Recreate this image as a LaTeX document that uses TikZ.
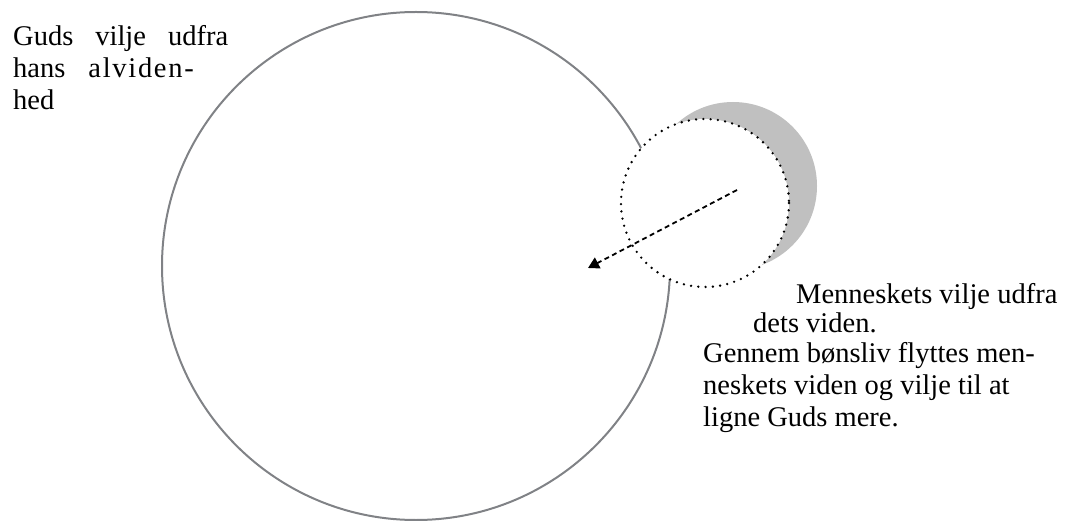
\documentclass[tikz,border=0pt]{standalone}
\usepackage{fontspec}
\setmainfont{Liberation Serif}
\usetikzlibrary{arrows.meta}
\definecolor{ringgray}{RGB}{128,130,134}
\definecolor{moongray}{RGB}{192,192,192}
\tikzset{
  label text/.style={inner sep=0pt, anchor=base west, font=\fontsize{28.5}{32.5}\selectfont},
}
\begin{document}
\begin{tikzpicture}[x=1pt,y=-1pt]
    \useasboundingbox (0,0) rectangle (1068,521);
    % grey crescent behind the small circle
    \fill[moongray] (733,186) circle (84);
    % Guds vilje
    \draw[ringgray, line width=2pt] (416,266) circle (254);
    % menneskets vilje
    \draw[line width=2.6pt, line cap=round, dash pattern=on 0pt off 7.3pt, fill=white] (705,203) circle (84);
    \coordinate (from) at (737,190);
    \coordinate (to) at (588,268);
    \draw[line width=1.8pt, dash pattern=on 5pt off 3.5pt, -{Triangle[length=11pt,width=12pt]}] (from) -- (to);
    \node[label text] (god1) at (13,46) {\makebox[215pt][s]{Guds vilje udfra}};
    \node[label text] (god2) at (13,78) {hans\hspace{23pt}{\addfontfeatures{LetterSpace=6}alviden-}};
    \node[label text] (god3) at (13,110) {hed};
    \node[label text] (man1) at (796,304) {Menneskets vilje udfra};
    \node[label text] (man2) at (753,332) {dets viden.};
    \node[label text] (man3) at (703,362) {Gennem bønsliv flyttes men-};
    \node[label text] (man4) at (703,394) {neskets viden og vilje til at};
    \node[label text] (man5) at (703,426) {ligne Guds mere.};
  \end{tikzpicture}
\end{document}
